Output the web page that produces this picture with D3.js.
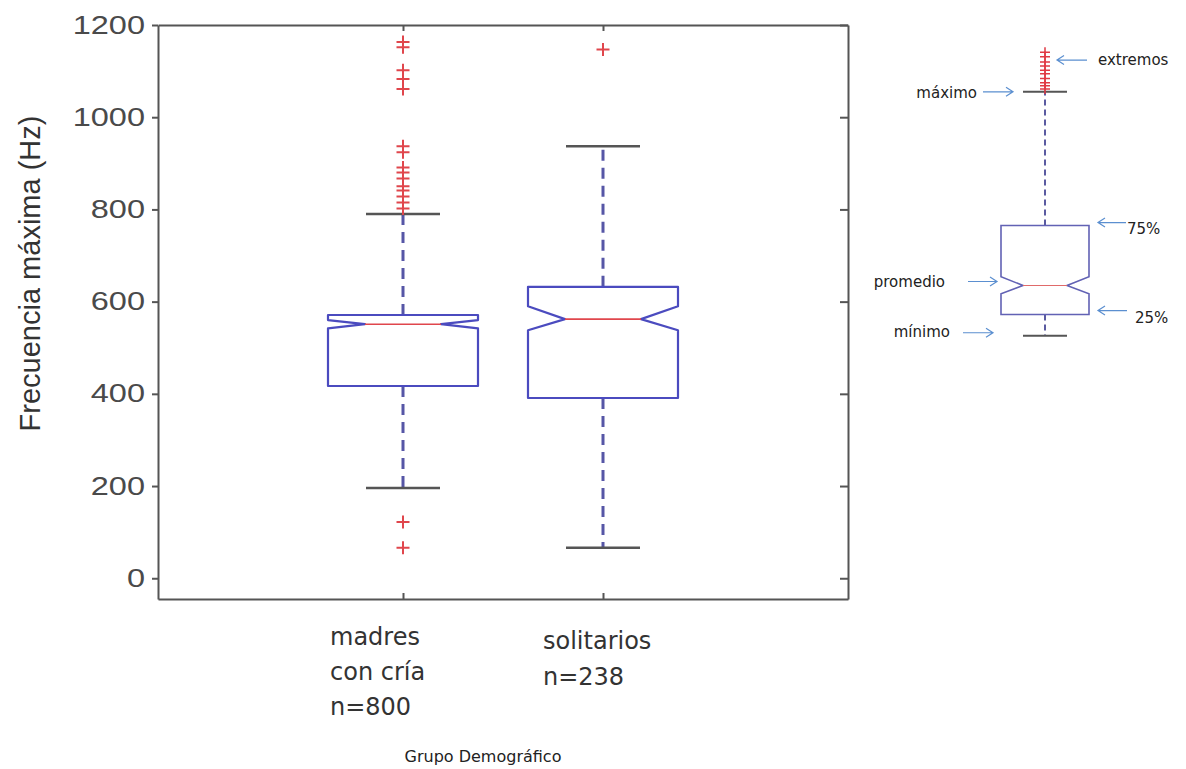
<!DOCTYPE html>
<html>
<head>
<meta charset="utf-8">
<script src="https://cdn.jsdelivr.net/npm/d3@7"></script>
<style>
  html, body { margin: 0; padding: 0; background: #fff; }
  svg { display: block; }
</style>
</head>
<body>
<svg id="chart" width="1186" height="769"></svg>
<script>
// ---------------- DATA ----------------
const categories = ["madres con cría", "solitarios"];
const categoryLabelLines = [["madres", "con cría", "n=800"], ["solitarios", "n=238"]];
const whiskerLo = [196, 66];
const q1 = [417, 391];
const notchLo = [542, 538];
const median = [551, 562];
const notchHi = [560, 590];
const q3 = [571, 632];
const whiskerHi = [790, 937];
const outliers = [
  [1163, 1152, 1102, 1083, 1061, 937, 924, 891, 880, 867, 850, 841, 828, 815, 802, 122, 66],
  [1147]
];
const yTicks = [0, 200, 400, 600, 800, 1000, 1200];
const yTitle = "Frecuencia máxima (Hz)";
const xTitle = "Grupo Demográfico";

// legend (schematic box) values
const legendStats = ["mínimo", "25%", "promedio", "75%", "máximo"];
const legendMin = 526, legendQ1 = 572, legendNotchLo = 617, legendMedian = 635,
      legendNotchHi = 654, legendQ3 = 765, legendMax = 1055;
const legendOutliers = [1141, 1131, 1120, 1111, 1102, 1094, 1084, 1075, 1068, 1061];
const legendLabels = ["extremos", "máximo", "75%", "promedio", "25%", "mínimo"];
const legendTargets = [1124, legendMax, legendQ3, legendMedian, legendQ1, legendMin];

// ---------------- LAYOUT ----------------
const svg = d3.select("#chart");
const L = 158, R = 848, T = 25, B = 599;
const y = d3.scaleLinear().domain([-45, 1200]).range([B, T]);
const x = d3.scalePoint().domain(categories).range([L, R]).padding(1.225);

const boxHalf = 75, capHalf = 37, notchDepth = 37;
const blue = "#4b4bbf", whiskBlue = "#5656a6", red = "#e0464c", gray = "#555";

// axes (tick marks only; labels drawn stretched)
const axisStyle = g => { g.selectAll("path,line").attr("stroke", gray).attr("stroke-width", 2); g.selectAll("text").remove(); };
svg.append("g").attr("transform", `translate(${L},0)`)
  .call(d3.axisLeft(y).tickValues(yTicks).tickSize(6).tickSizeOuter(0).tickFormat("")).call(axisStyle);
svg.append("g").attr("transform", `translate(${R},0)`)
  .call(d3.axisRight(y).tickValues(yTicks).tickSize(-8).tickSizeOuter(0).tickFormat("")).call(axisStyle);
svg.append("g").attr("transform", `translate(0,${B})`)
  .call(d3.axisBottom(x).tickSize(-6).tickSizeOuter(0).tickFormat("")).call(axisStyle);
svg.append("g").attr("transform", `translate(0,${T})`)
  .call(d3.axisTop(x).tickSize(-6).tickSizeOuter(0).tickFormat("")).call(axisStyle);
svg.selectAll(".domain").attr("stroke", gray).attr("stroke-width", 2);

// y tick labels (horizontally stretched like the source)
svg.append("g").selectAll("text").data(yTicks).join("text")
  .attr("transform", d => `translate(145,${y(d)}) scale(1.3,1)`)
  .attr("text-anchor", "end").attr("dominant-baseline", "central")
  .attr("font-family", "Liberation Sans, Arial, sans-serif").attr("font-size", 25)
  .attr("fill", "#4a4a4a").text(d => d);

// y title
svg.append("text")
  .attr("transform", `translate(40,${(110 + 437) / 2}) rotate(-90)`)
  .attr("text-anchor", "middle")
  .attr("font-family", "Liberation Sans, Arial, sans-serif").attr("font-size", 29)
  .attr("fill", "#333").text(yTitle);

// boxes
function boxPath(cx, half, d, lo, nlo, med, nhi, hi, ys) {
  const pts = [
    [cx - half, ys(lo)], [cx - half, ys(nlo)], [cx - half + d, ys(med)], [cx - half, ys(nhi)], [cx - half, ys(hi)],
    [cx + half, ys(hi)], [cx + half, ys(nhi)], [cx + half - d, ys(med)], [cx + half, ys(nlo)], [cx + half, ys(lo)]
  ];
  return d3.line()(pts) + "Z";
}

const groups = svg.append("g").selectAll("g").data(categories).join("g");
groups.each(function(c, i) {
  const g = d3.select(this), cx = x(c);
  // whiskers
  g.append("line").attr("x1", cx).attr("x2", cx).attr("y1", y(q3[i])).attr("y2", y(whiskerHi[i]))
    .attr("stroke", whiskBlue).attr("stroke-width", 3).attr("stroke-dasharray", "11,7");
  g.append("line").attr("x1", cx).attr("x2", cx).attr("y1", y(q1[i])).attr("y2", y(whiskerLo[i]))
    .attr("stroke", whiskBlue).attr("stroke-width", 3).attr("stroke-dasharray", "11,7");
  [whiskerHi[i], whiskerLo[i]].forEach(v => {
    g.append("line").attr("x1", cx - capHalf).attr("x2", cx + capHalf).attr("y1", y(v)).attr("y2", y(v))
      .attr("stroke", gray).attr("stroke-width", 2.5);
  });
  // box
  g.append("path").attr("d", boxPath(cx, boxHalf, notchDepth, q1[i], notchLo[i], median[i], notchHi[i], q3[i], y))
    .attr("fill", "none").attr("stroke", blue).attr("stroke-width", 2.2).attr("stroke-linejoin", "round");
  g.append("line").attr("x1", cx - boxHalf + notchDepth).attr("x2", cx + boxHalf - notchDepth)
    .attr("y1", y(median[i])).attr("y2", y(median[i])).attr("stroke", red).attr("stroke-width", 1.6);
  // outliers
  g.selectAll("path.out").data(outliers[i]).join("path").attr("class", "out")
    .attr("d", v => `M${cx - 6.5},${y(v)}H${cx + 6.5}M${cx},${y(v) - 6.5}V${y(v) + 6.5}`)
    .attr("stroke", red).attr("stroke-width", 2);
});

// category labels
const labelOffsets = [-73, -60];
const labelBaselines = [[645, 680, 715], [649, 685]];
categories.forEach((c, i) => {
  categoryLabelLines[i].forEach((line, j) => {
    svg.append("text").attr("x", x(c) + labelOffsets[i]).attr("y", labelBaselines[i][j])
      .attr("font-family", "DejaVu Sans, Verdana, sans-serif").attr("font-size", 24)
      .attr("fill", "#333").text(line);
  });
});

// x title
svg.append("text").attr("x", 483).attr("y", 762).attr("text-anchor", "middle")
  .attr("font-family", "DejaVu Sans, Verdana, sans-serif").attr("font-size", 16)
  .attr("fill", "#222").text(xTitle);

// ---------------- LEGEND SCHEMATIC ----------------
const lx = 1045, lHalf = 44, lCap = 22, lNotch = 22;
const lg = svg.append("g");
lg.append("line").attr("x1", lx).attr("x2", lx).attr("y1", y(legendQ3)).attr("y2", y(legendMax))
  .attr("stroke", "#5a5aa0").attr("stroke-width", 2).attr("stroke-dasharray", "6,4");
lg.append("line").attr("x1", lx).attr("x2", lx).attr("y1", y(legendQ1)).attr("y2", y(legendMin))
  .attr("stroke", "#5a5aa0").attr("stroke-width", 2).attr("stroke-dasharray", "6,4");
[legendMax, legendMin].forEach(v => {
  lg.append("line").attr("x1", lx - lCap).attr("x2", lx + lCap).attr("y1", y(v)).attr("y2", y(v))
    .attr("stroke", "#555").attr("stroke-width", 2);
});
lg.append("path").attr("d", boxPath(lx, lHalf, lNotch, legendQ1, legendNotchLo, legendMedian, legendNotchHi, legendQ3, y))
  .attr("fill", "none").attr("stroke", "#6262b4").attr("stroke-width", 1.6);
lg.append("line").attr("x1", lx - lHalf + lNotch).attr("x2", lx + lHalf - lNotch)
  .attr("y1", y(legendMedian)).attr("y2", y(legendMedian)).attr("stroke", "#e06a6a").attr("stroke-width", 1.2);
lg.selectAll("path.lo").data(legendOutliers).join("path").attr("class", "lo")
  .attr("d", v => `M${lx - 5},${y(v)}H${lx + 5}M${lx},${y(v) - 5}V${y(v) + 5}`)
  .attr("stroke", "#e03a44").attr("stroke-width", 1.5);

// legend arrows + labels
const arrowColor = "#5b8fd0";
// per label: side (-1 left of box, +1 right), arrow head x, arrow tail x, text x, y nudge
const arrowLayout = [
  { head: lx + 12, tail: lx + 42, tx: lx + 53, dy: 0 },
  { head: lx - 32, tail: lx - 62, tx: lx - 68, dy: 0 },
  { head: lx + 53, tail: lx + 81, tx: lx + 82, dy: -3 },
  { head: lx - 48, tail: lx - 77, tx: lx - 100, dy: -4 },
  { head: lx + 53, tail: lx + 82, tx: lx + 90, dy: -4 },
  { head: lx - 52, tail: lx - 82, tx: lx - 95, dy: -3 }
];
const labelDy = [0, 1, 6, 1, 7, -1];
legendLabels.forEach((lab, i) => {
  const a = arrowLayout[i];
  const yy = y(legendTargets[i]) + a.dy;
  const dir = Math.sign(a.head - a.tail);
  lg.append("path")
    .attr("d", `M${a.tail},${yy}H${a.head}M${a.head - dir * 7},${yy - 4.5}L${a.head},${yy}L${a.head - dir * 7},${yy + 4.5}`)
    .attr("fill", "none").attr("stroke", arrowColor).attr("stroke-width", 1.2);
  lg.append("text").attr("x", a.tx).attr("y", yy + labelDy[i])
    .attr("text-anchor", dir < 0 ? "start" : "end").attr("dominant-baseline", "central")
    .attr("font-family", "DejaVu Sans, Verdana, sans-serif").attr("font-size", 15)
    .attr("fill", "#222").text(lab);
});
</script>
</body>
</html>
